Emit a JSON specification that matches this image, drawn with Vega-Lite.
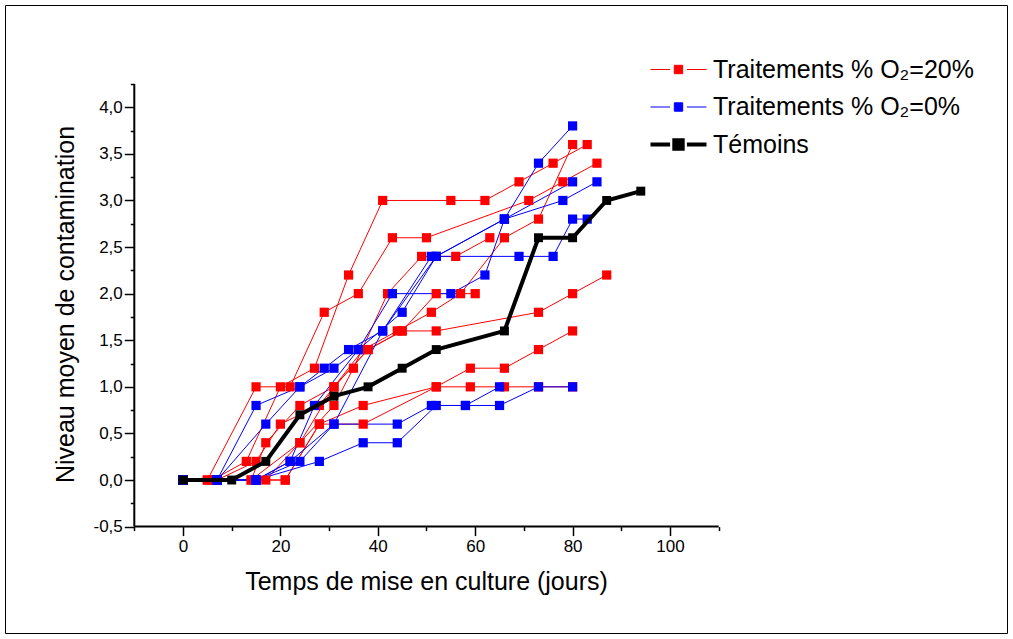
{
  "$schema": "https://vega.github.io/schema/vega-lite/v6.json",
  "width": 1002,
  "height": 628,
  "autosize": {"type": "none"},
  "padding": {"left": 5, "top": 5, "right": 6, "bottom": 6},
  "background": "white",
  "config": {
    "view": {"stroke": "black", "strokeWidth": 1},
    "font": "Liberation Sans",
    "axis": {"grid": false, "domain": false, "tickColor": "black", "tickWidth": 1.5, "labelColor": "black", "labelFont": "Liberation Sans", "titleFont": "Liberation Sans", "titleColor": "black", "titleFontWeight": "normal"}
  },
  "datasets": {
    "axes": [
      {"x1": -10, "x2": 110, "y1": -0.5, "y2": -0.5},
      {"x1": -10, "x2": -10, "y1": -0.5, "y2": 4.25}
    ],
    "pts": [
      {"g":"20","s":"R1","j":0,"n":0},{"g":"20","s":"R1","j":5,"n":0},{"g":"20","s":"R1","j":15,"n":1.0},{"g":"20","s":"R1","j":22,"n":1.0},{"g":"20","s":"R1","j":29,"n":1.8},{"g":"20","s":"R1","j":36,"n":2.0},{"g":"20","s":"R1","j":43,"n":2.6},{"g":"20","s":"R1","j":50,"n":2.6},{"g":"20","s":"R1","j":71,"n":3.0},{"g":"20","s":"R1","j":78,"n":3.2},{"g":"20","s":"R1","j":85,"n":3.4},
      {"g":"20","s":"R2","j":0,"n":0},{"g":"20","s":"R2","j":6,"n":0},{"g":"20","s":"R2","j":13,"n":0.2},{"g":"20","s":"R2","j":20,"n":1.0},{"g":"20","s":"R2","j":27,"n":1.2},{"g":"20","s":"R2","j":34,"n":2.2},{"g":"20","s":"R2","j":41,"n":3.0},{"g":"20","s":"R2","j":55,"n":3.0},{"g":"20","s":"R2","j":62,"n":3.0},{"g":"20","s":"R2","j":69,"n":3.2},{"g":"20","s":"R2","j":76,"n":3.4},{"g":"20","s":"R2","j":83,"n":3.6},
      {"g":"20","s":"R3","j":0,"n":0},{"g":"20","s":"R3","j":7,"n":0},{"g":"20","s":"R3","j":15,"n":0.2},{"g":"20","s":"R3","j":20,"n":0.6},{"g":"20","s":"R3","j":28,"n":0.8},{"g":"20","s":"R3","j":37,"n":1.4},{"g":"20","s":"R3","j":44,"n":1.6},{"g":"20","s":"R3","j":51,"n":1.8},{"g":"20","s":"R3","j":57,"n":2.0},{"g":"20","s":"R3","j":66,"n":2.6},{"g":"20","s":"R3","j":73,"n":2.8},{"g":"20","s":"R3","j":80,"n":3.6},
      {"g":"20","s":"R4","j":0,"n":0},{"g":"20","s":"R4","j":7,"n":0},{"g":"20","s":"R4","j":14,"n":0},{"g":"20","s":"R4","j":17,"n":0.4},{"g":"20","s":"R4","j":24,"n":0.8},{"g":"20","s":"R4","j":31,"n":1.0},{"g":"20","s":"R4","j":38,"n":1.4},{"g":"20","s":"R4","j":45,"n":1.6},{"g":"20","s":"R4","j":52,"n":1.6},{"g":"20","s":"R4","j":73,"n":1.8},{"g":"20","s":"R4","j":80,"n":2.0},{"g":"20","s":"R4","j":87,"n":2.2},
      {"g":"20","s":"R5","j":0,"n":0},{"g":"20","s":"R5","j":7,"n":0},{"g":"20","s":"R5","j":17,"n":0},{"g":"20","s":"R5","j":24,"n":0.4},{"g":"20","s":"R5","j":31,"n":0.8},{"g":"20","s":"R5","j":35,"n":1.2},{"g":"20","s":"R5","j":42,"n":2.0},{"g":"20","s":"R5","j":49,"n":2.4},{"g":"20","s":"R5","j":56,"n":2.4},{"g":"20","s":"R5","j":63,"n":2.6},
      {"g":"20","s":"R6","j":0,"n":0},{"g":"20","s":"R6","j":7,"n":0},{"g":"20","s":"R6","j":21,"n":0},{"g":"20","s":"R6","j":28,"n":0.6},{"g":"20","s":"R6","j":37,"n":0.8},{"g":"20","s":"R6","j":52,"n":1.0},{"g":"20","s":"R6","j":59,"n":1.2},{"g":"20","s":"R6","j":66,"n":1.2},{"g":"20","s":"R6","j":73,"n":1.4},{"g":"20","s":"R6","j":80,"n":1.6},
      {"g":"20","s":"R7","j":0,"n":0},{"g":"20","s":"R7","j":7,"n":0},{"g":"20","s":"R7","j":21,"n":0},{"g":"20","s":"R7","j":28,"n":0.6},{"g":"20","s":"R7","j":37,"n":0.6},{"g":"20","s":"R7","j":52,"n":1.0},{"g":"20","s":"R7","j":59,"n":1.0},{"g":"20","s":"R7","j":66,"n":1.0},{"g":"20","s":"R7","j":73,"n":1.0},{"g":"20","s":"R7","j":80,"n":1.0},
      {"g":"20","s":"R8","j":0,"n":0},{"g":"20","s":"R8","j":5,"n":0},{"g":"20","s":"R8","j":14,"n":0},{"g":"20","s":"R8","j":24,"n":0.4},{"g":"20","s":"R8","j":31,"n":1.0},{"g":"20","s":"R8","j":38,"n":1.4},{"g":"20","s":"R8","j":45,"n":1.6},{"g":"20","s":"R8","j":52,"n":2.0},{"g":"20","s":"R8","j":60,"n":2.0},
      {"g":"0","s":"B1","j":0,"n":0},{"g":"0","s":"B1","j":7,"n":0},{"g":"0","s":"B1","j":15,"n":0.8},{"g":"0","s":"B1","j":24,"n":1.0},{"g":"0","s":"B1","j":31,"n":1.2},{"g":"0","s":"B1","j":36,"n":1.4},{"g":"0","s":"B1","j":45,"n":1.8},{"g":"0","s":"B1","j":52,"n":2.4},{"g":"0","s":"B1","j":66,"n":2.8},{"g":"0","s":"B1","j":73,"n":3.4},{"g":"0","s":"B1","j":80,"n":3.8},
      {"g":"0","s":"B2","j":0,"n":0},{"g":"0","s":"B2","j":7,"n":0},{"g":"0","s":"B2","j":17,"n":0.6},{"g":"0","s":"B2","j":24,"n":1.0},{"g":"0","s":"B2","j":29,"n":1.2},{"g":"0","s":"B2","j":34,"n":1.4},{"g":"0","s":"B2","j":41,"n":1.6},{"g":"0","s":"B2","j":51,"n":2.4},{"g":"0","s":"B2","j":69,"n":2.4},{"g":"0","s":"B2","j":76,"n":2.4},{"g":"0","s":"B2","j":80,"n":2.8},{"g":"0","s":"B2","j":83,"n":2.8},
      {"g":"0","s":"B3","j":0,"n":0},{"g":"0","s":"B3","j":7,"n":0},{"g":"0","s":"B3","j":15,"n":0},{"g":"0","s":"B3","j":22,"n":0.2},{"g":"0","s":"B3","j":27,"n":0.8},{"g":"0","s":"B3","j":36,"n":1.4},{"g":"0","s":"B3","j":43,"n":2.0},{"g":"0","s":"B3","j":55,"n":2.0},{"g":"0","s":"B3","j":62,"n":2.2},{"g":"0","s":"B3","j":66,"n":2.8},{"g":"0","s":"B3","j":78,"n":3.0},{"g":"0","s":"B3","j":85,"n":3.2},
      {"g":"0","s":"B4","j":0,"n":0},{"g":"0","s":"B4","j":7,"n":0},{"g":"0","s":"B4","j":15,"n":0},{"g":"0","s":"B4","j":24,"n":0.2},{"g":"0","s":"B4","j":31,"n":0.6},{"g":"0","s":"B4","j":41,"n":1.6},{"g":"0","s":"B4","j":52,"n":2.4},{"g":"0","s":"B4","j":66,"n":2.8},{"g":"0","s":"B4","j":80,"n":3.2},
      {"g":"0","s":"B5","j":0,"n":0},{"g":"0","s":"B5","j":7,"n":0},{"g":"0","s":"B5","j":15,"n":0},{"g":"0","s":"B5","j":22,"n":0.2},{"g":"0","s":"B5","j":31,"n":0.6},{"g":"0","s":"B5","j":44,"n":0.6},{"g":"0","s":"B5","j":51,"n":0.8},{"g":"0","s":"B5","j":58,"n":0.8},{"g":"0","s":"B5","j":65,"n":1.0},
      {"g":"0","s":"B6","j":0,"n":0},{"g":"0","s":"B6","j":7,"n":0},{"g":"0","s":"B6","j":15,"n":0},{"g":"0","s":"B6","j":28,"n":0.2},{"g":"0","s":"B6","j":37,"n":0.4},{"g":"0","s":"B6","j":44,"n":0.4},{"g":"0","s":"B6","j":52,"n":0.8},{"g":"0","s":"B6","j":58,"n":0.8},{"g":"0","s":"B6","j":65,"n":0.8},{"g":"0","s":"B6","j":73,"n":1.0},{"g":"0","s":"B6","j":80,"n":1.0},
      {"g":"T","s":"T1","j":0,"n":0},{"g":"T","s":"T1","j":10,"n":0},{"g":"T","s":"T1","j":17,"n":0.2},{"g":"T","s":"T1","j":24,"n":0.7},{"g":"T","s":"T1","j":31,"n":0.9},{"g":"T","s":"T1","j":38,"n":1.0},{"g":"T","s":"T1","j":45,"n":1.2},{"g":"T","s":"T1","j":52,"n":1.4},{"g":"T","s":"T1","j":66,"n":1.6},{"g":"T","s":"T1","j":73,"n":2.6},{"g":"T","s":"T1","j":80,"n":2.6},{"g":"T","s":"T1","j":87,"n":3.0},{"g":"T","s":"T1","j":94,"n":3.1}
    ]
  },
  "layer": [
    {
      "data": {"name": "axes"},
      "mark": {"type": "rule", "color": "black", "strokeWidth": 2},
      "encoding": {
        "x": {"field": "x1", "type": "quantitative", "axis": null, "scale": {"domain": [-36.55, 169.2], "nice": false, "zero": false}},
        "x2": {"field": "x2"},
        "y": {"field": "y1", "type": "quantitative", "axis": null, "scale": {"domain": [-1.6416, 5.0976], "nice": false, "zero": false}},
        "y2": {"field": "y2"}
      }
    },
    {
      "data": {"name": "pts"},
      "transform": [{"filter": "datum.g !== 'T'"}],
      "mark": {"type": "line", "strokeWidth": 1},
      "encoding": {
        "x": {"field": "j", "type": "quantitative", "axis": {"orient": "bottom", "offset": -106.4, "values": [0, 20, 40, 60, 80, 100], "tickSize": 9, "labelFontSize": 17, "labelPadding": 3, "labelFlush": false, "labelOverlap": false, "title": "Temps de mise en culture (jours)", "titleFontSize": 25, "titleX": 421, "titleY": 55, "titleBaseline": "middle", "titleAlign": "center"}},
        "y": {"field": "n", "type": "quantitative", "axis": {"orient": "left", "offset": -129.3, "values": [-0.5, 0, 0.5, 1, 1.5, 2, 2.5, 3, 3.5, 4], "tickSize": 10, "labelFontSize": 17, "labelPadding": 2, "labelFlush": false, "labelOverlap": false, "labelExpr": "replace(replace(format(datum.value, '.1f'), '.', ','), '\u2212', '-')", "title": "Niveau moyen de contamination", "titleFontSize": 25, "titleX": -69, "titleY": 299, "titleAngle": -90, "titleBaseline": "middle", "titleAlign": "center"}},
        "color": {"field": "g", "type": "nominal", "scale": {"domain": ["20", "0", "T"], "range": ["#ff0000", "#0000ff", "#000000"]},
          "legend": {"orient": "none", "legendX": 661, "legendY": 52, "title": null, "padding": 0,
            "symbolType": "M-1,0H-0.3M0.3,0H1M-0.15,-0.15H0.15V0.15H-0.15Z", "symbolSize": 3136,
            "labelFontSize": 25, "labelFont": "Liberation Sans", "labelColor": "black", "labelOffset": 22, "labelLimit": 500, "rowPadding": 11.5,
            "labelExpr": "datum.value === '20' ? 'Traitements % O₂=20%' : datum.value === '0' ? 'Traitements % O₂=0%' : 'Témoins'",
            "encode": {"symbols": {"update": {"fill": {"signal": "scale('color', datum.value)"}, "stroke": {"signal": "scale('color', datum.value)"}, "strokeWidth": {"signal": "datum.value === 'T' ? 4 : 1"}, "opacity": {"value": 1}}}}}},
        "detail": {"field": "s"}
      }
    },
    {
      "data": {"name": "pts"},
      "transform": [{"filter": "datum.g !== 'T'"}],
      "mark": {"type": "point", "shape": "square", "filled": true, "size": 85, "opacity": 1},
      "encoding": {
        "x": {"field": "j", "type": "quantitative", "axis": {"orient": "bottom", "offset": -106.4, "values": [-10, 10, 30, 50, 70, 90, 110], "tickSize": 4, "labels": false, "title": null}},
        "y": {"field": "n", "type": "quantitative", "axis": {"orient": "left", "offset": -129.3, "values": [-0.25, 0.25, 0.75, 1.25, 1.75, 2.25, 2.75, 3.25, 3.75, 4.25], "tickSize": 4, "labels": false, "title": null}},
        "color": {"field": "g", "type": "nominal", "legend": null}
      }
    },
    {
      "data": {"name": "pts"},
      "transform": [{"filter": "datum.g === 'T'"}],
      "mark": {"type": "line", "strokeWidth": 4},
      "encoding": {
        "x": {"field": "j", "type": "quantitative", "axis": null},
        "y": {"field": "n", "type": "quantitative", "axis": null},
        "color": {"field": "g", "type": "nominal", "legend": null}
      }
    },
    {
      "data": {"name": "pts"},
      "transform": [{"filter": "datum.g === 'T'"}],
      "mark": {"type": "point", "shape": "square", "filled": true, "size": 80, "opacity": 1},
      "encoding": {
        "x": {"field": "j", "type": "quantitative", "axis": null},
        "y": {"field": "n", "type": "quantitative", "axis": null},
        "color": {"field": "g", "type": "nominal", "legend": null}
      }
    }
  ],
  "resolve": {"axis": {"x": "independent", "y": "independent"}}
}
